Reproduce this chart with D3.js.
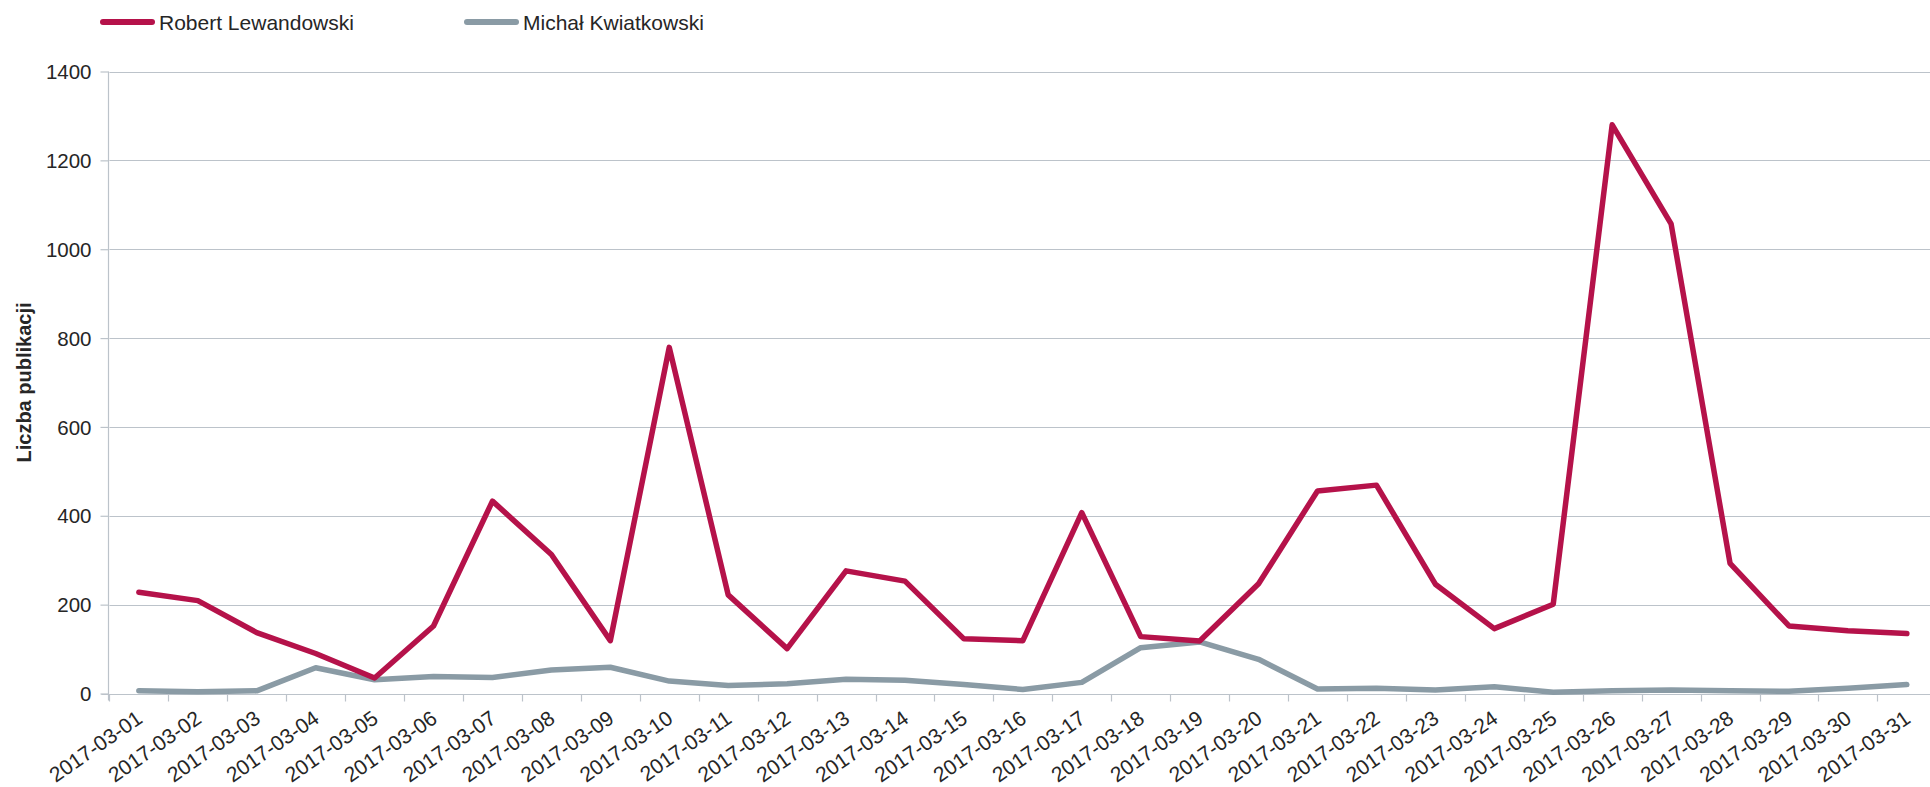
<!DOCTYPE html>
<html>
<head>
<meta charset="utf-8">
<script src="https://cdn.jsdelivr.net/npm/d3@7/dist/d3.min.js"></script>
<style>
  html, body { margin: 0; padding: 0; background: #fff; overflow: hidden; }
  text { font-family: "Liberation Sans", Arial, sans-serif; fill: #262626; }
</style>
</head>
<body>
<div id="chart"></div>
<script>
var dates = ["2017-03-01","2017-03-02","2017-03-03","2017-03-04","2017-03-05","2017-03-06","2017-03-07","2017-03-08",
  "2017-03-09","2017-03-10","2017-03-11","2017-03-12","2017-03-13","2017-03-14","2017-03-15","2017-03-16",
  "2017-03-17","2017-03-18","2017-03-19","2017-03-20","2017-03-21","2017-03-22","2017-03-23","2017-03-24",
  "2017-03-25","2017-03-26","2017-03-27","2017-03-28","2017-03-29","2017-03-30","2017-03-31"];
var lewandowski = [228, 209, 137, 90, 35, 152, 433, 313, 119, 779, 222, 101, 276, 253, 123, 119,
  407, 128, 118, 247, 456, 469, 246, 146, 201, 1280, 1057, 293, 152, 141, 135];
var kwiatkowski = [6, 4, 6, 58, 31, 38, 36, 53, 59, 28, 18, 22, 32, 30, 20, 9,
  25, 103, 116, 77, 10, 12, 8, 15, 3, 6, 8, 6, 5, 12, 20];
var seriesNames = ["Robert Lewandowski", "Michał Kwiatkowski"];
var yTicks = [0, 200, 400, 600, 800, 1000, 1200, 1400];
var yTitle = "Liczba publikacji";

(function () {
  var width = 1930, height = 787;
  var colors = ["#b5124a", "#8a9ba5"];
  var grid = "#bcc3ca";

  var svg = d3.select("#chart").append("svg")
    .attr("width", width)
    .attr("height", height);

  var x = d3.scaleBand().domain(dates).range([109.4, 1936.3]).padding(0);
  var y = d3.scaleLinear().domain([0, 1400]).range([693.5, 71.5]);

  // horizontal gridlines
  svg.append("g").selectAll("line")
    .data(yTicks.filter(function (d) { return d > 0; }))
    .enter().append("line")
    .attr("x1", x.range()[0]).attr("x2", x.range()[1])
    .attr("y1", function (d) { return Math.round(y(d)) + 0.5; })
    .attr("y2", function (d) { return Math.round(y(d)) + 0.5; })
    .style("stroke", grid).style("stroke-width", 1.2);

  // y axis
  var yAxis = svg.append("g")
    .attr("transform", "translate(" + (Math.round(x.range()[0]) - 0.5) + ",0)")
    .call(d3.axisLeft(y).tickValues(yTicks).tickSize(8).tickPadding(9).tickFormat(d3.format("d")));
  yAxis.selectAll("line, path").style("stroke", grid).style("stroke-width", 1.2);
  yAxis.select(".domain").attr("d", "M0," + y(1400) + "V" + (y(0) + 7));
  yAxis.selectAll("text").style("font-size", "20.5px").style("fill", "#262626")
    .style("font-family", "'Liberation Sans', Arial, sans-serif").attr("dy", "0.35em");

  // x axis
  var xg = svg.append("g").attr("transform", "translate(0," + (Math.round(y(0)) + 0.5) + ")");
  xg.append("line")
    .attr("x1", x.range()[0] - 8).attr("x2", x.range()[1])
    .style("stroke", grid).style("stroke-width", 1.2);
  xg.selectAll(".xtick")
    .data(dates)
    .enter().append("line")
    .attr("class", "xtick")
    .attr("x1", function (d) { return Math.round(x(d)) + 0.5; })
    .attr("x2", function (d) { return Math.round(x(d)) + 0.5; })
    .attr("y1", 0).attr("y2", 7)
    .style("stroke", grid).style("stroke-width", 1.2);
  xg.selectAll(".xlabel")
    .data(dates)
    .enter().append("text")
    .attr("class", "xlabel")
    .attr("text-anchor", "end")
    .attr("transform", function (d) {
      return "translate(" + (x(d) + x.bandwidth() / 2 + 5) + ",27) rotate(-35)";
    })
    .style("font-size", "21px")
    .text(function (d) { return d; });

  // y title
  svg.append("text")
    .attr("transform", "translate(30.5," + ((y(0) + y(1400)) / 2) + ") rotate(-90)")
    .attr("text-anchor", "middle")
    .style("font-size", "20px")
    .style("font-weight", "bold")
    .text(yTitle);

  // lines
  var line = d3.line()
    .x(function (d, i) { return x(dates[i]) + x.bandwidth() / 2; })
    .y(function (d) { return y(d); });

  [kwiatkowski, lewandowski].forEach(function (vals, k) {
    svg.append("path")
      .datum(vals)
      .attr("d", line)
      .style("fill", "none")
      .style("stroke", colors[1 - k])
      .style("stroke-width", 5.5)
      .style("stroke-linejoin", "round")
      .style("stroke-linecap", "round");
  });

  // legend
  var legendX = [100, 464];
  var legend = svg.append("g").selectAll("g")
    .data(seriesNames)
    .enter().append("g")
    .attr("transform", function (d, i) { return "translate(" + legendX[i] + ",22)"; });
  legend.append("line")
    .attr("x1", 3).attr("x2", 52)
    .style("stroke", function (d, i) { return colors[i]; })
    .style("stroke-width", 6)
    .style("stroke-linecap", "round");
  legend.append("text")
    .attr("x", 59).attr("y", 7.5)
    .style("font-size", "21px")
    .text(function (d) { return d; });
}());
</script>
</body>
</html>
